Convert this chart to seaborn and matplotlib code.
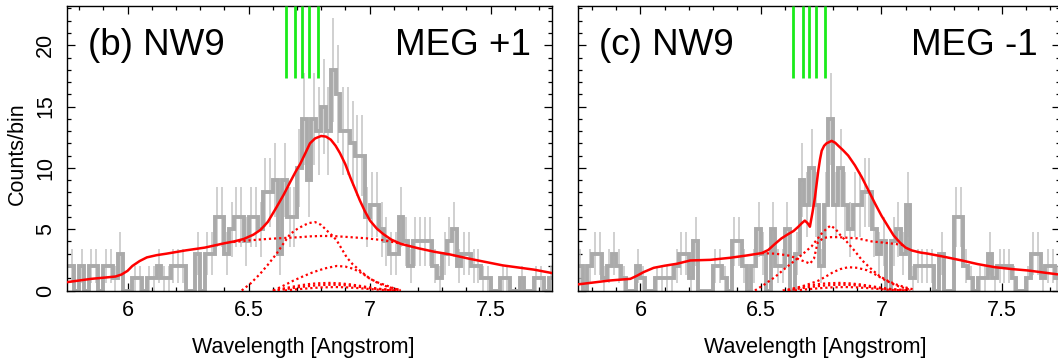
import numpy as np
import matplotlib
matplotlib.use("Agg")
import matplotlib.pyplot as plt
import seaborn as sns
from matplotlib.ticker import MultipleLocator

sns.set_style("ticks")
plt.rcParams["font.family"] = ["Liberation Sans", "DejaVu Sans"]
plt.rcParams["text.color"] = "black"
plt.rcParams["xtick.color"] = "black"
plt.rcParams["ytick.color"] = "black"

# spectrum binning (Angstrom)
bin_start = 5.74
bin_width = 0.02

# counts per bin, MEG +1 and MEG -1
counts_plus = [2, 2, 0, 2, 0, 2, 2, 0, 2, 2,
               1, 3, 0, 0, 1, 1, 0, 1, 1, 2,
               1, 1, 2, 2, 2, 0, 0, 3, 0, 3,
               3, 6, 6, 3, 5, 6, 6, 4, 6, 6,
               5, 8, 8, 9, 3, 9, 6, 6, 10, 14,
               9, 14, 13, 15, 13, 18, 16, 13, 13, 12,
               11, 11, 6, 7, 7, 5, 4, 3, 3, 6,
               4, 2, 4, 4, 4, 4, 2, 1, 3, 4,
               5, 2, 3, 3, 2, 2, 1, 1, 0, 0,
               1, 1, 0, 0, 1, 0, 0, 1, 1, 0,
               1]
counts_minus = [2, 0, 2, 3, 3, 1, 2, 3, 2, 1,
                0, 0, 2, 1, 0, 0, 1, 1, 1, 1,
                2, 3, 3, 1, 4, 0, 0, 0, 2, 2,
                1, 0, 4, 4, 2, 0, 2, 5, 3, 0,
                5, 2, 2, 5, 0, 3, 9, 7, 10, 7,
                2, 7, 14, 7, 10, 7, 5, 7, 7, 8,
                8, 5, 3, 4, 0, 4, 5, 3, 7, 1,
                2, 2, 2, 2, 0, 3, 0, 0, 6, 6,
                2, 1, 0, 1, 1, 3, 1, 2, 2, 2,
                1, 0, 0, 1, 3, 3, 1, 2, 2, 1,
                1]

# total model
total_plus_wl = [5.75, 5.85, 5.92, 5.95, 5.975, 6.0, 6.02, 6.05, 6.08, 6.12, 6.16, 6.24,
                 6.32, 6.40, 6.44, 6.48, 6.52, 6.55, 6.58, 6.616, 6.645, 6.672, 6.695,
                 6.713, 6.735, 6.754, 6.775, 6.80, 6.82, 6.84, 6.86, 6.878, 6.90, 6.92,
                 6.94, 6.96, 6.98, 7.002, 7.03, 7.057, 7.09, 7.13, 7.2, 7.27, 7.33,
                 7.41, 7.55, 7.68, 7.76]
total_plus = [0.68, 0.95, 1.08, 1.14, 1.3, 1.6, 2.0, 2.4, 2.7, 2.88, 3.0, 3.27,
              3.5, 3.85, 4.0, 4.2, 4.55, 4.95, 5.6, 6.8, 7.8, 8.84, 9.7,
              10.3, 11.2, 12.0, 12.4, 12.6, 12.55, 12.3, 11.8, 11.2, 10.3, 9.25,
              8.3, 7.35, 6.5, 5.7, 5.05, 4.6, 4.15, 3.8, 3.45, 3.15, 2.95,
              2.6, 2.05, 1.7, 1.4]
total_minus_wl = [5.737, 5.875, 5.958, 5.985, 6.013, 6.055, 6.10, 6.151, 6.207, 6.29,
                  6.373, 6.442, 6.503, 6.53, 6.558, 6.585, 6.613, 6.635, 6.655, 6.67,
                  6.682, 6.693, 6.703, 6.714, 6.724, 6.738, 6.745, 6.752, 6.762, 6.772,
                  6.793, 6.808, 6.821, 6.84, 6.862, 6.89, 6.918, 6.945, 6.973, 7.0,
                  7.028, 7.05, 7.077, 7.1, 7.125, 7.16, 7.194, 7.26, 7.333, 7.4,
                  7.471, 7.54, 7.609, 7.745]
total_minus = [0.49, 0.82, 0.95, 1.2, 1.5, 1.85, 2.02, 2.18, 2.45, 2.5,
               2.67, 2.86, 3.05, 3.3, 3.8, 4.25, 4.6, 4.85, 5.2, 5.5,
               5.7, 5.5, 5.2, 6.4, 7.6, 9.8, 10.7, 11.4, 11.8, 12.0,
               12.2, 12.05, 11.8, 11.45, 11.0, 10.2, 9.25, 8.2, 7.1, 6.1,
               5.2, 4.5, 3.9, 3.5, 3.27, 3.1, 3.0, 2.75, 2.45, 2.15,
               1.9, 1.75, 1.63, 1.28]

# model components (dotted)
comp_plus = [
    ([6.437, 6.5, 6.575, 6.645, 6.713, 6.76, 6.81, 6.865, 6.92, 6.99, 7.057, 7.11, 7.153],
     [3.95, 4.08, 4.2, 4.28, 4.35, 4.42, 4.45, 4.42, 4.35, 4.25, 4.1, 3.9, 3.7]),
    ([6.472, 6.51, 6.548, 6.58, 6.616, 6.645, 6.672, 6.70, 6.727, 6.75, 6.775, 6.80,
      6.823, 6.845, 6.864, 6.885, 6.906, 6.93, 6.96, 6.99, 7.016, 7.045, 7.071, 7.1, 7.126],
     [0.0, 0.6, 1.36, 2.1, 3.0, 3.85, 4.6, 5.0, 5.3, 5.5, 5.58, 5.35,
      4.9, 4.5, 4.1, 3.4, 2.7, 2.15, 1.63, 1.15, 0.8, 0.52, 0.33, 0.15, 0.05]),
    ([6.603, 6.64, 6.685, 6.725, 6.768, 6.815, 6.864, 6.90, 6.933, 6.97, 7.002, 7.035,
      7.071, 7.1, 7.126],
     [0.0, 0.35, 0.8, 1.15, 1.5, 1.8, 2.0, 1.95, 1.77, 1.4, 0.95, 0.65,
      0.4, 0.18, 0.05]),
    ([6.6, 6.64, 6.68, 6.72, 6.76, 6.8, 6.84, 6.88, 6.92, 6.96, 7.0, 7.04, 7.08, 7.13],
     [0.0, 0.15, 0.3, 0.44, 0.55, 0.6, 0.62, 0.58, 0.5, 0.38, 0.25, 0.14, 0.07, 0.0]),
    ([6.62, 6.66, 6.7, 6.74, 6.78, 6.82, 6.85, 6.89, 6.93, 6.97, 7.01, 7.05, 7.1],
     [0.0, 0.13, 0.25, 0.34, 0.42, 0.46, 0.47, 0.44, 0.37, 0.27, 0.17, 0.09, 0.03]),
    ([6.65, 6.69, 6.73, 6.77, 6.8, 6.86, 6.9, 6.95, 7.0, 7.05, 7.12],
     [0.0, 0.08, 0.15, 0.21, 0.25, 0.28, 0.26, 0.2, 0.12, 0.05, 0.0]),
]
comp_minus = [
    ([6.503, 6.56, 6.613, 6.645, 6.669, 6.69, 6.703, 6.72, 6.735, 6.76, 6.79, 6.82, 6.86,
      6.9, 6.96, 7.01, 7.056, 7.09],
     [3.05, 3.0, 2.86, 2.65, 2.45, 2.3, 2.18, 2.6, 3.9, 4.3, 4.35, 4.35, 4.3,
      4.25, 4.0, 3.9, 3.8, 3.7]),
    ([6.475, 6.515, 6.558, 6.6, 6.641, 6.675, 6.71, 6.73, 6.75, 6.77, 6.789, 6.81, 6.83,
      6.855, 6.89, 6.92, 6.955, 6.99, 7.025, 7.06, 7.1, 7.13],
     [0.0, 0.5, 1.1, 1.8, 2.45, 3.0, 3.6, 4.1, 4.6, 5.0, 5.3, 5.0, 4.5,
      4.0, 3.2, 2.45, 1.8, 1.2, 0.8, 0.5, 0.25, 0.1]),
    ([6.613, 6.645, 6.68, 6.71, 6.738, 6.77, 6.8, 6.83, 6.862, 6.9, 6.94, 6.975, 7.01,
      7.04, 7.07, 7.12],
     [0.0, 0.2, 0.4, 0.6, 0.8, 1.15, 1.5, 1.75, 1.9, 1.85, 1.65, 1.3, 0.9,
      0.6, 0.35, 0.05]),
    ([6.59, 6.63, 6.67, 6.71, 6.75, 6.79, 6.83, 6.87, 6.91, 6.95, 6.99, 7.03, 7.07, 7.12],
     [0.0, 0.15, 0.3, 0.44, 0.55, 0.6, 0.62, 0.58, 0.5, 0.38, 0.25, 0.14, 0.07, 0.0]),
    ([6.61, 6.65, 6.69, 6.73, 6.77, 6.81, 6.84, 6.88, 6.92, 6.96, 7.0, 7.04, 7.09],
     [0.0, 0.13, 0.25, 0.34, 0.42, 0.46, 0.47, 0.44, 0.37, 0.27, 0.17, 0.09, 0.03]),
    ([6.64, 6.68, 6.72, 6.76, 6.79, 6.85, 6.89, 6.94, 6.99, 7.04, 7.11],
     [0.0, 0.08, 0.15, 0.21, 0.25, 0.28, 0.26, 0.2, 0.12, 0.05, 0.0]),
]

# line markers at the top
lines_plus = [6.654, 6.694, 6.723, 6.748, 6.788]
lines_minus = [6.634, 6.673, 6.700, 6.727, 6.765]

fig = plt.figure(figsize=(10.58, 3.64), dpi=100)
W, H = 1058.0, 364.0
ax1 = fig.add_axes([67 / W, (H - 290.5) / H, 484.5 / W, 284.5 / H])
ax2 = fig.add_axes([578.3 / W, (H - 290.5) / H, 482 / W, 284.5 / H])

panels = [
    (ax1, counts_plus, total_plus_wl, total_plus, comp_plus, lines_plus,
     "(b) NW9", "MEG +1", (5.75, 7.752), 0.957),
    (ax2, counts_minus, total_minus_wl, total_minus, comp_minus, lines_minus,
     "(c) NW9", "MEG -1", (5.742, 7.742), 0.952),
]

for ax, counts, twl, tot, comps, lines, lab, order, xlim, xr in panels:
    c = np.array(counts, dtype=float)
    edges = bin_start + bin_width * np.arange(len(c) + 1)
    centers = 0.5 * (edges[:-1] + edges[1:])
    err = np.sqrt(c)

    # error bars and data histogram
    ax.vlines(centers, np.clip(c - err, 0, None), c + err, color="#c4c4c4", lw=1.1, zorder=1)
    ax.stairs(c, edges, baseline=None, color="#aaaaaa", lw=2.8, zorder=2)

    # model components and total
    for wl, val in comps:
        ax.plot(wl, val, color="red", lw=1.6, linestyle=(0, (1, 1.3)), zorder=3)
    sns.lineplot(x=twl, y=tot, ax=ax, color="red", lw=1.8, sort=False, zorder=4)

    ax.vlines(lines, 17.3, 23.2, color="#1aeb1a", lw=2.0, zorder=5)

    ax.set_xlim(*xlim)
    ax.set_ylim(0, 23.2)
    ax.xaxis.set_major_locator(MultipleLocator(0.5))
    ax.xaxis.set_minor_locator(MultipleLocator(0.1))
    ax.yaxis.set_major_locator(MultipleLocator(5))
    ax.yaxis.set_minor_locator(MultipleLocator(1))
    ax.xaxis.set_major_formatter(matplotlib.ticker.FuncFormatter(lambda v, p: f"{v:g}"))
    ax.tick_params(which="both", direction="in", top=True, right=True, width=0.9,
                   color="black", labelcolor="black", labelsize=15.5)
    ax.tick_params(which="major", length=6)
    ax.tick_params(which="minor", length=3)
    ax.tick_params(axis="x", pad=7)
    ax.tick_params(axis="y", pad=8)
    for s in ax.spines.values():
        s.set_linewidth(1.0)
        s.set_color("black")
    ax.set_xlabel("")
    ax.set_ylabel("")

    ax.text(0.043, 0.828, lab, transform=ax.transAxes, fontsize=26.5, va="baseline",
            ha="left", color="black")
    ax.text(xr, 0.828, order, transform=ax.transAxes, fontsize=26.5, va="baseline",
            ha="right", color="black")

plt.setp(ax1.get_yticklabels(), rotation=90, va="center")
ax2.tick_params(axis="y", labelleft=False)

fig.text(17 / W, 0.578, "Counts/bin", rotation=90, fontsize=15.5, ha="center", va="center")
fig.text(303.5 / W, (H - 348) / H, "Wavelength [Angstrom]", fontsize=15.5, ha="center", va="center")
fig.text(815 / W, (H - 348) / H, "Wavelength [Angstrom]", fontsize=15.5, ha="center", va="center")

fig.savefig("out.png", dpi=100)
